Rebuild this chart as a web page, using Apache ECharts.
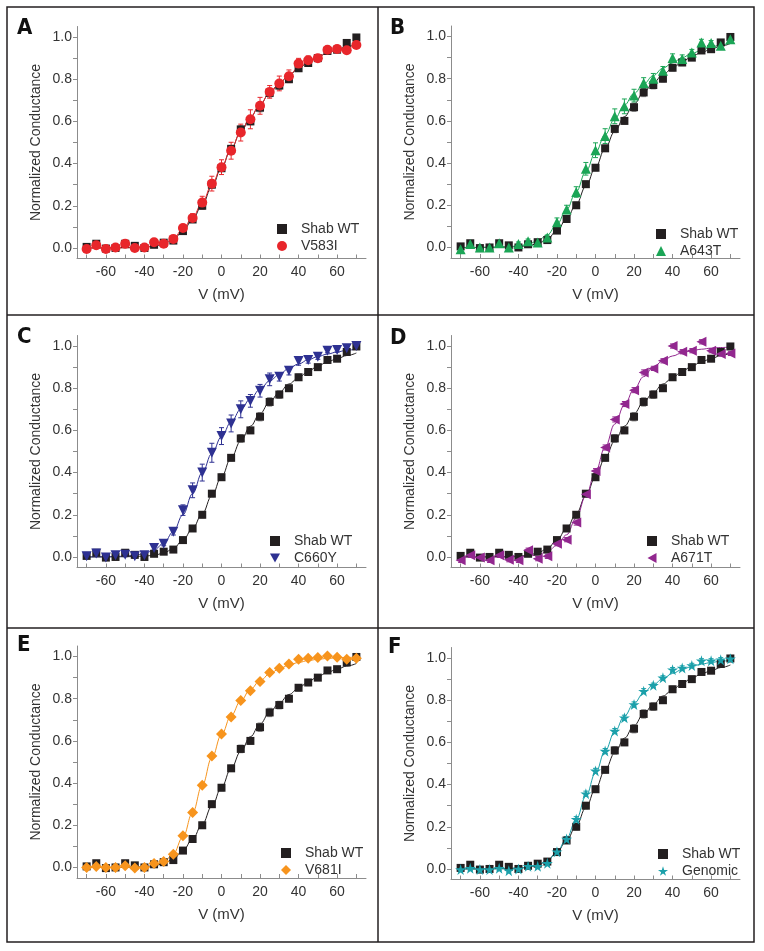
<!DOCTYPE html>
<html>
<head>
<meta charset="utf-8">
<script src="https://cdn.jsdelivr.net/npm/echarts@6.0.0/dist/echarts.min.js"></script>
<style>
html,body{margin:0;padding:0;background:#fff;}
#chart{width:764px;height:951px;}
</style>
</head>
<body>
<div id="chart"></div>
<script>
// ---- Data ----
const V = [-70,-65,-60,-55,-50,-45,-40,-35,-30,-25,-20,-15,-10,-5,0,5,10,15,20,25,30,35,40,45,50,55,60,65,70];

const xTickLabels = [-60,-40,-20,0,20,40,60];
const xTicks = [-70,-60,-50,-40,-30,-20,-10,0,10,20,30,40,50,60,70];
const yTickLabels = [0,0.2,0.4,0.6,0.8,1.0];
const yTicks = [0,0.1,0.2,0.3,0.4,0.5,0.6,0.7,0.8,0.9,1.0];

const wt    = [0.005,0.02,-0.003,0.0,0.02,0.01,0.0,0.015,0.025,0.035,0.08,0.135,0.20,0.30,0.378,0.47,0.562,0.60,0.665,0.735,0.77,0.80,0.852,0.877,0.90,0.934,0.94,0.972,0.998];
const wtErr = [0.01,0.01,0.01,0.01,0.01,0.01,0.01,0.01,0.01,0.01,0.012,0.012,0.015,0.015,0.015,0.015,0.018,0.015,0.02,0.02,0.018,0.015,0.015,0.015,0.012,0.01,0.01,0.01,0.008];
const wtFit = [0,0,0,0.001,0.001,0.002,0.004,0.008,0.018,0.04,0.08,0.135,0.205,0.29,0.38,0.47,0.55,0.62,0.68,0.735,0.78,0.82,0.85,0.88,0.905,0.925,0.94,0.955,0.967];

const v583i    = [-0.005,0.013,-0.005,0.002,0.02,0.0,0.002,0.027,0.02,0.043,0.095,0.142,0.215,0.305,0.383,0.461,0.547,0.61,0.674,0.74,0.78,0.814,0.874,0.89,0.90,0.94,0.943,0.937,0.962];
const v583iErr = [0.01,0.01,0.01,0.01,0.01,0.01,0.01,0.01,0.01,0.015,0.015,0.02,0.03,0.035,0.035,0.04,0.04,0.045,0.04,0.03,0.035,0.03,0.025,0.02,0.015,0.012,0.01,0.01,0.01];
const v583iFit = [0,0,0,0.001,0.001,0.002,0.005,0.01,0.02,0.045,0.09,0.145,0.215,0.3,0.385,0.47,0.55,0.62,0.68,0.735,0.78,0.82,0.855,0.88,0.905,0.925,0.94,0.95,0.96];

const a643t    = [-0.008,0.016,0.0,0.0,0.02,0.0,0.016,0.03,0.024,0.047,0.12,0.18,0.263,0.373,0.461,0.528,0.622,0.669,0.72,0.78,0.80,0.838,0.898,0.893,0.924,0.972,0.969,0.956,0.987];
const a643tErr = [0.01,0.01,0.01,0.01,0.01,0.01,0.01,0.01,0.01,0.012,0.02,0.02,0.025,0.03,0.035,0.035,0.035,0.035,0.03,0.025,0.025,0.02,0.02,0.02,0.015,0.015,0.012,0.012,0.01];
const a643tFit = [0,0,0,0.001,0.002,0.004,0.007,0.015,0.032,0.06,0.11,0.18,0.265,0.36,0.45,0.535,0.61,0.675,0.73,0.775,0.815,0.85,0.875,0.9,0.92,0.935,0.95,0.96,0.97];

const c660y    = [0.003,0.016,-0.003,0.008,0.011,0.003,0.008,0.043,0.063,0.119,0.222,0.316,0.40,0.494,0.573,0.633,0.70,0.74,0.788,0.842,0.854,0.883,0.929,0.934,0.949,0.978,0.981,0.989,1.0];
const c660yErr = [0.01,0.01,0.01,0.01,0.01,0.01,0.01,0.01,0.01,0.015,0.025,0.035,0.04,0.045,0.04,0.04,0.04,0.03,0.03,0.03,0.02,0.02,0.02,0.015,0.012,0.01,0.01,0.01,0.01];
const c660yFit = [0,0.001,0.001,0.002,0.004,0.008,0.016,0.033,0.065,0.12,0.2,0.3,0.4,0.49,0.57,0.64,0.7,0.75,0.795,0.835,0.865,0.895,0.915,0.935,0.95,0.962,0.972,0.98,0.986];

const a671t    = [-0.016,0.008,-0.003,-0.016,0.008,-0.013,-0.016,0.032,-0.008,0.003,0.063,0.082,0.163,0.297,0.407,0.519,0.652,0.725,0.791,0.875,0.894,0.93,1.0,0.973,0.978,1.02,0.978,0.962,0.965];
const a671tErr = [0.01,0.01,0.01,0.01,0.01,0.01,0.01,0.01,0.01,0.01,0.01,0.01,0.012,0.012,0.012,0.012,0.012,0.012,0.012,0.012,0.01,0.01,0.01,0.01,0.01,0.01,0.01,0.01,0.01];
const a671tFit = [0,0,0,0,0,0,0.001,0.003,0.01,0.025,0.055,0.105,0.185,0.29,0.405,0.52,0.63,0.72,0.795,0.855,0.9,0.93,0.953,0.968,0.978,0.985,0.99,0.993,0.995];

const v681i    = [0.0,0.005,0.0,0.0,0.008,-0.003,0.0,0.019,0.028,0.063,0.15,0.26,0.39,0.528,0.633,0.713,0.792,0.838,0.882,0.924,0.945,0.965,0.987,0.992,0.995,1.003,0.997,0.987,0.992];
const v681iErr = [0.008,0.008,0.008,0.008,0.008,0.008,0.008,0.008,0.008,0.008,0.008,0.008,0.008,0.008,0.008,0.008,0.008,0.008,0.008,0.008,0.008,0.008,0.008,0.008,0.008,0.008,0.008,0.008,0.008];
const v681iFit = [0,0,0,0,0,0.001,0.002,0.008,0.025,0.065,0.145,0.26,0.39,0.52,0.63,0.72,0.79,0.845,0.885,0.918,0.942,0.96,0.972,0.981,0.987,0.991,0.994,0.996,0.997];

const genomic    = [-0.003,0.003,-0.003,-0.003,0.003,-0.008,0.0,0.013,0.013,0.027,0.082,0.142,0.236,0.357,0.465,0.559,0.654,0.717,0.78,0.843,0.871,0.906,0.945,0.953,0.965,0.987,0.987,0.992,0.997];
const genomicErr = [0.01,0.01,0.01,0.01,0.01,0.01,0.01,0.01,0.01,0.01,0.01,0.012,0.012,0.012,0.012,0.012,0.012,0.012,0.012,0.012,0.01,0.01,0.01,0.01,0.01,0.01,0.01,0.01,0.01];
const genomicFit = [0,0,0,0,0.001,0.002,0.004,0.008,0.017,0.038,0.08,0.145,0.235,0.345,0.455,0.56,0.65,0.725,0.785,0.835,0.873,0.903,0.927,0.946,0.96,0.971,0.979,0.985,0.99];

// ---- Panel layout / styling ----
const STAR = 'path://M50,0 L61,35 L98,35 L68,57 L79,91 L50,70 L21,91 L32,57 L2,35 L39,35 Z';
const TRI_DOWN = 'path://M0,0 L10,0 L5,9 Z';
const TRI_LEFT = 'path://M0,5 L9,0 L9,10 Z';
const panels = [
  {letter:'A', name:'V583I',   vals:v583i,   err:v583iErr,   fit:v583iFit,   color:'#e8262b', symbol:'circle',   rot:0,   icon:'circle',   size:10, gl:77,  gt:26.5, ll:276, lt:222, lx:17,  ly:17},
  {letter:'B', name:'A643T',   vals:a643t,   err:a643tErr,   fit:a643tFit,   color:'#1ba556', symbol:'triangle', rot:0,   icon:'triangle', size:10, gl:451, gt:26,   ll:655, lt:227, lx:390, ly:17},
  {letter:'C', name:'C660Y',   vals:c660y,   err:c660yErr,   fit:c660yFit,   color:'#2e3192', symbol:'triangle', rot:180, icon:TRI_DOWN,   size:10, gl:77,  gt:335.5,ll:269, lt:534, lx:17,  ly:326},
  {letter:'D', name:'A671T',   vals:a671t,   err:a671tErr,   fit:a671tFit,   color:'#92278f', symbol:'triangle', rot:90,  icon:TRI_LEFT,   size:10, gl:451, gt:335.5,ll:646, lt:534, lx:390, ly:327},
  {letter:'E', name:'V681I',   vals:v681i,   err:v681iErr,   fit:v681iFit,   color:'#f7941d', symbol:'diamond',  rot:0,   icon:'diamond',  size:11, gl:77,  gt:646,  ll:280, lt:846, lx:17,  ly:634},
  {letter:'F', name:'Genomic', vals:genomic, err:genomicErr, fit:genomicFit, color:'#1ba0aa', symbol:STAR,       rot:0,   icon:STAR,       size:11, gl:451, gt:647.5,ll:657, lt:847, lx:388, ly:636}
];

const GW = 289, GH = 232;
const AXIS_COLOR = '#8c8c8c';
const TEXT_COLOR = '#333';
const FONT = '"Liberation Sans", Arial, sans-serif';
const WT_COLOR = '#231f20';

const grid = [], xAxis = [], yAxis = [], series = [], legend = [], graphic = [];

function pairs(ys){ return V.map((v,j)=>[v, ys[j]]); }
function triples(ys, es){ return V.map((v,j)=>[v, ys[j], es[j]]); }

function errRender(color){
  return function(params, api){
    const x = api.value(0), y = api.value(1), e = api.value(2);
    const top = api.coord([x, y + e]);
    const bot = api.coord([x, y - e]);
    const hw = 2.5;
    const st = {stroke: color, lineWidth: 1};
    return {type:'group', children:[
      {type:'line', shape:{x1:top[0], y1:top[1], x2:bot[0], y2:bot[1]}, style:st},
      {type:'line', shape:{x1:top[0]-hw, y1:top[1], x2:top[0]+hw, y2:top[1]}, style:st},
      {type:'line', shape:{x1:bot[0]-hw, y1:bot[1], x2:bot[0]+hw, y2:bot[1]}, style:st}
    ]};
  };
}

panels.forEach((p, i) => {
  grid.push({left:p.gl, top:p.gt, width:GW, height:GH, containLabel:false});
  xAxis.push({
    type:'value', gridIndex:i, min:-75, max:75,
    axisLine:{show:true, onZero:false, lineStyle:{color:AXIS_COLOR, width:1}},
    axisTick:{show:true, inside:true, length:4, customValues:xTicks, lineStyle:{color:AXIS_COLOR}},
    axisLabel:{customValues:xTickLabels, margin:7, fontSize:14, color:TEXT_COLOR, fontFamily:FONT},
    splitLine:{show:false},
    name:'V (mV)', nameLocation:'middle', nameGap:29,
    nameTextStyle:{fontSize:15, color:TEXT_COLOR, fontFamily:FONT}
  });
  yAxis.push({
    type:'value', gridIndex:i, min:-0.05, max:1.05,
    axisLine:{show:true, onZero:false, lineStyle:{color:AXIS_COLOR, width:1}},
    axisTick:{show:true, inside:false, length:4, customValues:yTicks, lineStyle:{color:AXIS_COLOR}},
    axisLabel:{customValues:yTickLabels, margin:5, fontSize:14, color:TEXT_COLOR, fontFamily:FONT,
               formatter:(v)=>Number(v).toFixed(1)},
    splitLine:{show:false},
    name:'Normalized Conductance', nameLocation:'middle', nameGap:34, nameRotate:90,
    nameTextStyle:{fontSize:14, color:TEXT_COLOR, fontFamily:FONT}
  });

  series.push({
    type:'line', name:'fitWT'+i, xAxisIndex:i, yAxisIndex:i, data:pairs(wtFit),
    showSymbol:false, smooth:0.4, smoothMonotone:'x', silent:true, z:2,
    lineStyle:{color:WT_COLOR, width:1}
  });
  series.push({
    type:'line', name:'fit'+i, xAxisIndex:i, yAxisIndex:i, data:pairs(p.fit),
    showSymbol:false, smooth:0.4, smoothMonotone:'x', silent:true, z:2,
    lineStyle:{color:p.color, width:1}
  });
  series.push({
    type:'custom', name:'errWT'+i, xAxisIndex:i, yAxisIndex:i, data:triples(wt, wtErr),
    renderItem:errRender('#8a8a8a'), silent:true, z:3
  });
  series.push({
    type:'custom', name:'err'+i, xAxisIndex:i, yAxisIndex:i, data:triples(p.vals, p.err),
    renderItem:errRender(p.color), silent:true, z:3
  });
  series.push({
    type:'scatter', name:'Shab WT', xAxisIndex:i, yAxisIndex:i, data:pairs(wt),
    symbol:'rect', symbolSize:8, itemStyle:{color:WT_COLOR, opacity:1}, z:4
  });
  series.push({
    type:'scatter', name:p.name, xAxisIndex:i, yAxisIndex:i, data:pairs(p.vals),
    symbol:p.symbol, symbolRotate:p.rot, symbolSize:p.size, itemStyle:{color:p.color, opacity:1}, z:5
  });

  legend.push({
    data:[{name:'Shab WT', icon:'rect'}, {name:p.name, icon:p.icon}],
    orient:'vertical', left:p.ll + 1, top:p.lt, padding:0,
    itemWidth:10, itemHeight:10, itemGap:3, selectedMode:false, symbolRotate:0,
    textStyle:{fontSize:14, color:TEXT_COLOR, fontFamily:FONT, padding:[0,0,0,9]}
  });

  graphic.push({
    type:'text', left:p.lx, top:p.ly, z:10,
    style:{text:p.letter, fontSize:22, fontWeight:'bold',
           fontFamily:'"Liberation Sans Narrow", "DejaVu Sans Condensed", "Liberation Sans", sans-serif', fill:'#111'}
  });
});

// frame lines
const FR = {stroke:'#231f20', lineWidth:1.5};
graphic.push({type:'rect', shape:{x:7, y:7, width:747, height:935}, style:Object.assign({fill:'none'}, FR), z:10, silent:true});
graphic.push({type:'line', shape:{x1:378, y1:7, x2:378, y2:942}, style:FR, z:10, silent:true});
graphic.push({type:'line', shape:{x1:7, y1:315, x2:754, y2:315}, style:FR, z:10, silent:true});
graphic.push({type:'line', shape:{x1:7, y1:628, x2:754, y2:628}, style:FR, z:10, silent:true});

const chart = echarts.init(document.getElementById('chart'), null, {renderer:'canvas'});
chart.setOption({
  backgroundColor:'#fff',
  animation:false,
  grid, xAxis, yAxis, series, legend, graphic
});
</script>
</body>
</html>
